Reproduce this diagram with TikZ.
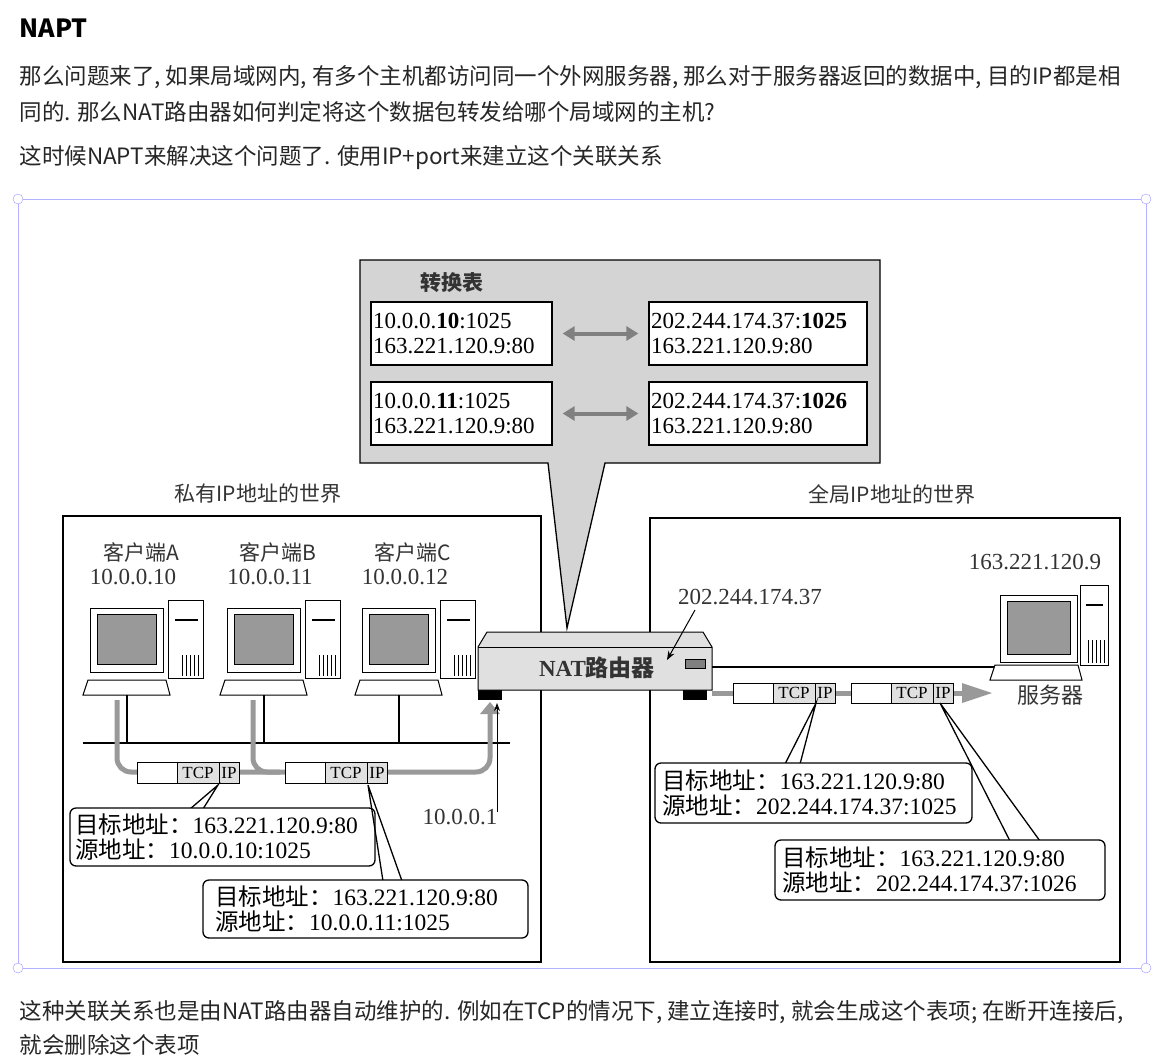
\documentclass[tikz,border=0pt]{standalone}
\usepackage{fontspec}
\setmainfont{Liberation Serif}
\newfontfamily\cjk{Noto Sans CJK SC}
\usetikzlibrary{arrows.meta,calc}
\begin{document}
\begin{tikzpicture}[x=1pt,y=-1pt,
  web/.style={anchor=west,font=\cjk\fontsize{22.5}{24}\selectfont,text=black!85},
  lab/.style={font=\fontsize{23}{25}\selectfont,text=black!80,inner sep=0},
  tbox/.style={draw,line width=1.3pt,fill=white,align=left,font=\fontsize{23}{25}\selectfont,inner sep=2pt,minimum height=63pt},
  ct/.style={anchor=west,font=\fontsize{23.5}{25}\selectfont,align=left,inner sep=0},
  call/.style={draw,line width=1.3pt,rounded corners=6pt,fill=white},
  pk/.style={draw,line width=0.9pt,fill=white},
  pt/.style={font=\fontsize{17}{18}\selectfont,inner sep=0},
  flow/.style={line width=5pt,black!40},
  handle/.style={circle,draw=blue!40,fill=white,inner sep=0,minimum size=10pt}]
\useasboundingbox (0,0) rectangle (1165,1058);
\fill[white] (0,0) rectangle (1165,1058);
% web text
\node[anchor=west,font=\cjk\bfseries\fontsize{25}{28}\selectfont] (t0) at (16,28) {NAPT};
\node[web] (t1) at (16,77) {那么问题来了, 如果局域网内, 有多个主机都访问同一个外网服务器, 那么对于服务器返回的数据中, 目的IP都是相};
\node[web] (t2) at (16,112) {同的. 那么NAT路由器如何判定将这个数据包转发给哪个局域网的主机?};
\node[web] (t3) at (16,158) {这时候NAPT来解决这个问题了. 使用IP+port来建立这个关联关系};
\node[web] (t4) at (16,1012) {这种关联关系也是由NAT路由器自动维护的. 例如在TCP的情况下, 建立连接时, 就会生成这个表项; 在断开连接后,};
\node[web] (t5) at (16,1045) {就会删除这个表项};
% selection frame
\draw[blue!30,line width=0.8pt] (18,199) rectangle (1146,968);
\foreach \p in {(18,199),(1146,199),(18,968),(1146,968)} \node[handle] at \p {};
% callout
\draw[line width=1.3pt,fill=black!17] (360,260) -- (880,260) -- (880,463) -- (605,463) -- (567,628) -- (548,463) -- (360,463) -- cycle;
\node[lab,font=\cjk\bfseries\fontsize{21}{22}\selectfont] (tt) at (452,283) {转换表};
\node[tbox,text width=177pt] (r1) at (461.5,333.5) {10.0.0.\textbf{10}:1025\\163.221.120.9:80};
\node[tbox,text width=214pt] (g1) at (758,333.5) {202.244.174.37:\textbf{1025}\\163.221.120.9:80};
\node[tbox,text width=177pt] (r2) at (461.5,413.5) {10.0.0.\textbf{11}:1025\\163.221.120.9:80};
\node[tbox,text width=214pt] (g2) at (758,413.5) {202.244.174.37:\textbf{1026}\\163.221.120.9:80};
\draw[black!50,line width=4pt,{Triangle[length=12pt,width=14pt]}-{Triangle[length=12pt,width=14pt]}] ($(r1.east)+(10,0)$) -- ($(g1.west)+(-10,0)$);
\draw[black!50,line width=4pt,{Triangle[length=12pt,width=14pt]}-{Triangle[length=12pt,width=14pt]}] ($(r2.east)+(10,0)$) -- ($(g2.west)+(-10,0)$);
% worlds
\node[lab,font=\cjk\fontsize{21}{22}\selectfont] (w1) at (258,494) {私有IP地址的世界};
\node[lab,font=\cjk\fontsize{21}{22}\selectfont] (w2) at (892,494) {全局IP地址的世界};
\draw[line width=1.8pt] (63,516) rectangle (541,962);
\draw[line width=1.8pt] (650,518) rectangle (1120,962);
% clients
\foreach \n/\dx/\ip in {A/0/10,B/137/11,C/272/12}{
  \begin{scope}[xshift=\dx pt]
  \node[lab,font=\cjk\fontsize{21}{22}\selectfont] at (141,552) {客户端\n};
  \node[lab] at (133,577) {10.0.0.\ip};
  \draw[line width=1pt,fill=white] (90,608) rectangle (163,672);
  \draw[line width=1pt,fill=black!40] (97,614) rectangle (156,664);
  \draw[line width=1pt,fill=white] (168,600) rectangle (203,678);
  \draw[line width=1.5pt] (175,620) -- (198,620);
  \foreach \k in {182,186,190,194,198} \draw (\k,655) -- (\k,676);
  \draw[line width=1pt,fill=white] (88,680) -- (166,680) -- (170,695) -- (83,695) -- cycle;
  \draw[line width=1.5pt] (127,695) -- (127,743);
  \end{scope}}
\draw[line width=2.2pt] (83,743) -- (510,743);
% router
\fill (478,688) rectangle (502,700);
\fill (683,688) rectangle (707,700);
\draw[line width=1pt,fill=black!12] (478,647) -- (487,632) -- (703,632) -- (712,647) -- (712,690) -- (478,690) -- cycle;
\draw (478,647) -- (712,647);
\node[lab,font=\bfseries\fontsize{23}{25}\selectfont] (nat) at (597,668) {NAT\cjk 路由器};
\draw[fill=black!50] (685,659) rectangle (705,668);
% server
\node[lab] (sip) at (1035,562) {163.221.120.9};
\draw[line width=2.5pt] (712,667) -- (1000,667);
\draw[line width=1pt,fill=white] (1000,595) rectangle (1077,662);
\draw[line width=1pt,fill=black!40] (1007,601) rectangle (1070,654);
\draw[line width=1pt,fill=white] (1080,585) rectangle (1108,665);
\draw[line width=1.5pt] (1086,605) -- (1103,605);
\foreach \k in {1088,1092,1096,1100,1104} \draw (\k,640) -- (\k,663);
\draw[line width=1pt,fill=white] (995,665) -- (1078,665) -- (1082,680) -- (990,680) -- cycle;
\node[lab,font=\cjk\fontsize{22}{24}\selectfont] (srv) at (1050,695) {服务器};
\node[lab] (pip) at (750,597) {202.244.174.37};
\draw[-{Stealth[length=9pt]},line width=1pt] (695,610) -- (667,660);
% right packets
\draw[flow] (712,693) -- (975,693);
\fill[black!40] (962,683) -- (992,693) -- (962,703) -- cycle;
\foreach \a in {733,851}{
  \draw[pk] (\a,683) rectangle ++(102,20);
  \draw[pk,fill=black!12] (\a+40,683) rectangle ++(62,20);
  \draw[pk] (\a+82,683) -- (\a+82,703);
  \node[pt] at (\a+61,693) {TCP};
  \node[pt] at (\a+92,693) {IP};}
% left flow
\draw[flow,rounded corners=14pt] (117,700) -- (117,772) -- (490,772) -- (490,712);
\draw[flow,rounded corners=14pt] (253,700) -- (253,772) -- (280,772);
\fill[black!40] (480,714) -- (490,702) -- (500,714) -- cycle;
\foreach \a in {137,285}{
  \draw[pk] (\a,762) rectangle ++(102,21);
  \draw[pk,fill=black!12] (\a+40,762) rectangle ++(62,21);
  \draw[pk] (\a+82,762) -- (\a+82,783);
  \node[pt] at (\a+61,772.5) {TCP};
  \node[pt] at (\a+92,772.5) {IP};}
\node[lab] (gw) at (460,817) {10.0.0.1};
\draw[-{Stealth[length=8pt]},line width=1pt] (497,812) -- (497,703);
% callouts
\draw[line width=1.3pt] (190,809) -- (218,785) -- (203,809);
\node[call,minimum width=305pt,minimum height=58pt] (c1) at (222.5,837) {};
\node[ct] at (75,837) {{\cjk 目标地址：}163.221.120.9:80\\{\cjk 源地址：}10.0.0.10:1025};
\draw[line width=1.3pt] (383,881) -- (368,785) -- (402,881);
\node[call,minimum width=325pt,minimum height=58pt] (c2) at (365.5,909) {};
\node[ct] at (215,909) {{\cjk 目标地址：}163.221.120.9:80\\{\cjk 源地址：}10.0.0.11:1025};
\draw[line width=1.3pt] (785,764) -- (816,703) -- (800,764);
\node[call,minimum width=317pt,minimum height=60pt] (c3) at (813.5,793) {};
\node[ct] at (662,793) {{\cjk 目标地址：}163.221.120.9:80\\{\cjk 源地址：}202.244.174.37:1025};
\draw[line width=1.3pt] (1010,841) -- (940,703) -- (1040,841);
\node[call,minimum width=330pt,minimum height=60pt] (c4) at (940,870) {};
\node[ct] at (782,870) {{\cjk 目标地址：}163.221.120.9:80\\{\cjk 源地址：}202.244.174.37:1026};
\end{tikzpicture}
\end{document}
